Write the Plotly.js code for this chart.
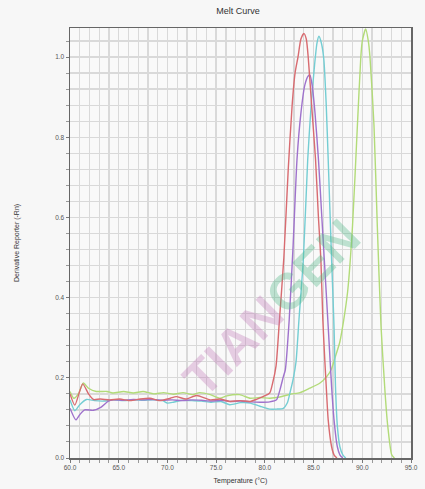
<!DOCTYPE html>
<html>
<head>
<meta charset="utf-8">
<script src="https://cdn.plot.ly/plotly-3.0.1.min.js"></script>
<style>html,body{margin:0;padding:0;background:#ffffff;}#chart{width:425px;height:489px;}</style>
</head>
<body>
<div id="chart"></div>
<script>
// Temperature (°C) and derivative reporter values
const tempRed  = [60.0,60.5,61.3,61.9,62.4,63.1,64.1,65.1,66.2,67.2,68.2,69.2,70.3,70.9,71.9,73.0,74.4,75.4,76.4,77.4,78.5,79.2,79.8,80.5,80.8,81.15,81.5,81.95,82.4,82.8,83.1,83.4,83.7,84.0,84.25,84.45,84.8,85.2,85.5,85.75,85.95,86.15,86.3,86.5,86.85,87.1,87.4];
const derivRed = [0.160,0.132,0.185,0.160,0.146,0.147,0.145,0.147,0.143,0.147,0.149,0.143,0.149,0.153,0.147,0.156,0.145,0.147,0.141,0.143,0.141,0.147,0.153,0.162,0.187,0.230,0.345,0.500,0.720,0.880,0.960,1.000,1.045,1.059,1.045,1.000,0.880,0.745,0.600,0.495,0.345,0.245,0.178,0.095,0.028,0.008,0.000];

const tempCyan  = [60.0,60.5,61.0,61.7,62.5,63.5,64.5,65.5,66.5,67.5,68.5,69.5,70.0,70.6,71.5,72.5,73.5,74.5,75.5,76.4,77.5,78.5,79.5,80.5,81.2,81.9,82.3,82.6,82.93,83.2,83.5,83.95,84.4,84.75,85.1,85.35,85.55,85.8,86.05,86.3,86.5,86.85,87.1,87.25,87.44,87.7,88.0,88.3];
const derivCyan = [0.145,0.118,0.133,0.146,0.143,0.142,0.145,0.143,0.145,0.144,0.145,0.143,0.137,0.139,0.144,0.143,0.142,0.139,0.141,0.133,0.138,0.137,0.129,0.122,0.122,0.124,0.137,0.165,0.200,0.240,0.345,0.495,0.745,0.880,0.980,1.035,1.052,1.035,0.995,0.880,0.745,0.495,0.328,0.178,0.080,0.028,0.008,0.000];

const tempPurple  = [60.0,60.6,61.0,61.5,62.4,63.2,63.9,64.4,65.5,66.5,67.5,68.5,69.5,70.5,71.5,72.5,73.5,74.5,75.5,76.5,77.5,78.5,79.5,80.5,81.2,81.55,81.9,82.1,82.5,82.9,83.3,83.7,84.1,84.45,84.63,84.85,85.15,85.5,85.85,86.1,86.5,86.85,87.1,87.44,87.7,88.0];
const derivPurple = [0.124,0.095,0.108,0.120,0.119,0.127,0.141,0.145,0.144,0.146,0.145,0.146,0.144,0.145,0.143,0.145,0.144,0.142,0.144,0.141,0.142,0.140,0.139,0.140,0.145,0.170,0.203,0.220,0.345,0.530,0.745,0.860,0.930,0.953,0.955,0.930,0.860,0.745,0.600,0.495,0.328,0.178,0.095,0.028,0.008,0.000];

const tempGreen  = [60.0,60.4,60.9,61.37,61.9,62.7,63.8,64.4,65.5,66.5,67.5,68.6,69.6,70.6,71.6,72.6,73.3,74.4,75.4,76.1,77.4,78.5,79.5,80.5,81.55,82.6,83.6,84.6,85.66,86.35,86.8,87.2,87.7,88.1,88.5,89.0,89.5,89.85,90.0,90.35,90.62,90.79,91.2,91.54,91.92,92.33,92.6,93.02,93.3];
const derivGreen = [0.166,0.149,0.162,0.187,0.174,0.166,0.166,0.162,0.166,0.162,0.166,0.160,0.163,0.159,0.163,0.158,0.163,0.158,0.149,0.155,0.158,0.149,0.151,0.149,0.152,0.159,0.163,0.174,0.187,0.203,0.220,0.250,0.290,0.345,0.416,0.580,0.830,1.000,1.040,1.070,1.040,1.000,0.830,0.580,0.330,0.166,0.083,0.008,0.000];

const xTickVals = [60,65,70,75,80,85,90,95];
const yTickVals = [0.0,0.2,0.4,0.6,0.8,1.0];

function mk(x, y, color) {
  return {x: x, y: y, type: 'scatter', mode: 'lines',
          line: {color: color, width: 1.4, shape: 'spline', smoothing: 0.6},
          hoverinfo: 'skip', showlegend: false};
}
const traces = [
  mk(tempGreen, derivGreen, '#b2db78'),
  mk(tempCyan, derivCyan, '#74cdd3'),
  mk(tempPurple, derivPurple, '#9f72cc'),
  mk(tempRed, derivRed, '#d86b70')
];

const gridCol = '#d9d9d9';
const layout = {
  width: 425, height: 489,
  margin: {l: 70, r: 14, t: 28, b: 31},
  paper_bgcolor: '#f7f7f7',
  plot_bgcolor: '#f9f9f9',
  font: {family: 'Liberation Sans, Arial, sans-serif', color: '#444', size: 7},
  title: {text: 'Melt Curve', x: 0.56, xanchor: 'center', y: 0.985, yanchor: 'top',
          font: {size: 9, color: '#333'}},
  xaxis: {range: [60, 95], tickvals: xTickVals, tickformat: '.1f',
          showgrid: true, gridcolor: gridCol, gridwidth: 1.3,
          minor: {dtick: 1, showgrid: true, gridcolor: gridCol, gridwidth: 1.3, ticks: 'outside', ticklen: 3, tickcolor: '#999'},
          ticks: 'outside', ticklen: 3, tickcolor: '#777',
          showline: true, linecolor: '#666', linewidth: 1.5, mirror: true,
          zeroline: false, tickfont: {size: 6.5, color: '#555'},
          title: {text: 'Temperature (°C)', standoff: 8, font: {size: 7, color: '#333'}}},
  yaxis: {range: [0, 1.0725], tickvals: yTickVals, tickformat: '.1f',
          showgrid: true, gridcolor: gridCol, gridwidth: 1.3,
          minor: {dtick: 0.04, showgrid: true, gridcolor: gridCol, gridwidth: 1.3, ticks: 'outside', ticklen: 3, tickcolor: '#999'},
          ticks: 'outside', ticklen: 3, tickcolor: '#777',
          showline: true, linecolor: '#666', linewidth: 1.5, mirror: true,
          zeroline: false, tickfont: {size: 6.5, color: '#555'},
          title: {text: 'Derivative Reporter (-Rn)', standoff: 34, font: {size: 7, color: '#333'}}},
  annotations: [
    {xref: 'x', yref: 'y', x: 80.7, y: 0.375, showarrow: false, textangle: -45, opacity: 0.35,
     text: '<b><span style="color:#c27bb8">TIAN</span><span style="color:#4fb786">GEN</span></b>',
     font: {size: 50, family: 'Liberation Sans, Arial, sans-serif'}}
  ]
};
Plotly.newPlot('chart', traces, layout, {staticPlot: true, displayModeBar: false});
</script>
</body>
</html>
